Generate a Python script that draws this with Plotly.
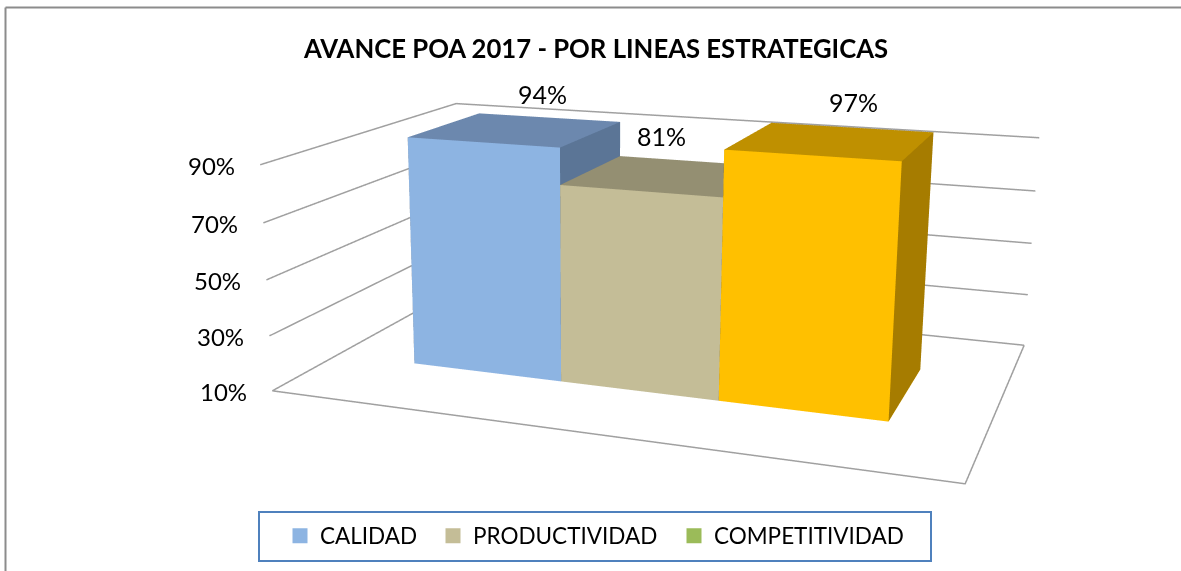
import plotly.graph_objects as go

# ---------- data ----------
series_names = ["CALIDAD", "PRODUCTIVIDAD", "COMPETITIVIDAD"]
series_values = [94, 81, 97]
value_labels = ["94%", "81%", "97%"]
tick_values = [10, 30, 50, 70, 90]
tick_labels = ["10%", "30%", "50%", "70%", "90%"]
title_text = "AVANCE POA 2017 - POR LINEAS ESTRATEGICAS"

# ---------- styles ----------
front_colors = ["#8DB4E2", "#C4BD97", "#FFC000"]
top_colors = ["#6C88AE", "#948F72", "#BF9000"]
side_colors = ["#5B7596", "#7F7A60", "#A67C00"]
legend_colors = ["#8DB4E2", "#C4BD97", "#9BBB59"]
legend_text_px = [319, 472, 713]
label_shift = [(26, 35), (-7, 39), (21, 39)]
GRID = "#A0A0A0"
FONT = "Lato"
W, H, TOP = 1181, 1321, -375     # tall canvas gives the flat perspective of the original
SIDE_GAP, Y_FRONT, Y_BACK = 0.133, 0.306, 0.703
Z_BASE = 10
PAD = 0.01                       # keeps lines on the box faces inside the scene's clip box


def xp(px):
    return px / W


def yp(py):
    return 1 - (py - TOP) / H


fig = go.Figure()
bar_w = (1 - 2 * SIDE_GAP) / len(series_values)

for i, v in enumerate(series_values):
    x0, x1 = SIDE_GAP + i * bar_w, SIDE_GAP + (i + 1) * bar_w
    fig.add_trace(go.Mesh3d(
        x=[x0, x1, x1, x0, x0, x1, x1, x0],
        y=[Y_FRONT, Y_FRONT, Y_BACK, Y_BACK, Y_FRONT, Y_FRONT, Y_BACK, Y_BACK],
        z=[Z_BASE] * 4 + [v] * 4,
        i=[0, 0, 4, 4, 0, 0, 1, 1, 2, 2, 3, 3],
        j=[1, 2, 5, 6, 1, 5, 2, 6, 3, 7, 0, 4],
        k=[2, 3, 6, 7, 5, 4, 6, 5, 7, 6, 4, 7],
        facecolor=[front_colors[i]] * 2 + [top_colors[i]] * 2 + [front_colors[i]] * 2
        + [side_colors[i]] * 2 + [side_colors[i]] * 2 + [side_colors[i]] * 2,
        flatshading=True,
        lighting=dict(ambient=1, diffuse=0, specular=0, fresnel=0),
        showlegend=False, hoverinfo="skip"))

# wall grid lines and floor
for t in tick_values:
    fig.add_trace(go.Scatter3d(x=[0, 0, 1], y=[0, 1, 1], z=[t, t, t], mode="lines",
                               line=dict(color=GRID, width=3), showlegend=False, hoverinfo="skip"))
fig.add_trace(go.Scatter3d(x=[0, 1, 1], y=[0, 0, 1], z=[Z_BASE] * 3, mode="lines",
                           line=dict(color=GRID, width=3), showlegend=False, hoverinfo="skip"))

# one legend per series so each entry sits where the original has it
legends = {}
for n, (name, col, tx) in enumerate(zip(series_names, legend_colors, legend_text_px)):
    key = "legend" if n == 0 else "legend%d" % (n + 1)
    fig.add_trace(go.Scatter3d(x=[None], y=[None], z=[None], mode="markers", name=name, legend=key,
                               marker=dict(symbol="square", size=15, color=col)))
    legends[key] = dict(orientation="h", x=xp(tx - 39), y=yp(536), xanchor="left", yanchor="middle",
                        bgcolor="rgba(0,0,0,0)", font=dict(family=FONT, size=22.5, color="black"))

annots = [dict(x=0, y=0, z=t, text=l, showarrow=False, xanchor="right", yanchor="middle",
               xshift=-23, yshift=-1, font=dict(family=FONT, size=24, color="black"))
          for t, l in zip(tick_values, tick_labels)]
for i, (v, l) in enumerate(zip(series_values, value_labels)):
    annots.append(dict(x=SIDE_GAP + (i + 0.5) * bar_w, y=(Y_FRONT + Y_BACK) / 2, z=v, text=l,
                       showarrow=False, xanchor="center", yanchor="middle",
                       xshift=label_shift[i][0], yshift=label_shift[i][1],
                       font=dict(family=FONT, size=25, color="black")))

k = 1 + 2 * PAD
z_mid, z_half = 55, 45
fig.update_layout(
    width=W, height=H, margin=dict(l=0, r=0, t=0, b=0), paper_bgcolor="white",
    title=dict(text="<b>" + title_text + "</b>", x=xp(596), y=yp(49), xanchor="center", yanchor="middle",
               xref="paper", yref="paper", font=dict(family=FONT, size=25.7, color="black")),
    scene=dict(
        domain=dict(x=[0, 1], y=[0, 1]),
        xaxis=dict(range=[-PAD, 1 + PAD], visible=False),
        yaxis=dict(range=[-PAD, 1 + PAD], visible=False),
        zaxis=dict(range=[z_mid - z_half * k, z_mid + z_half * k], visible=False),
        aspectmode="manual", aspectratio=dict(x=1.051 * k, y=0.664 * k, z=0.397 * k),
        camera=dict(eye=dict(x=0.773, y=-2.328, z=0.588),
                    center=dict(x=-0.057, y=-0.186, z=-0.022),
                    up=dict(x=0.0, y=0.009, z=1)),
        annotations=annots),
    shapes=[
        dict(type="rect", xref="paper", yref="paper", x0=xp(259), x1=xp(931), y0=yp(512), y1=yp(561),
             line=dict(color="#4F81BD", width=2)),
        dict(type="line", xref="paper", yref="paper", x0=xp(5.5), x1=xp(1181), y0=yp(7.5), y1=yp(7.5),
             line=dict(color="#8C8C8C", width=2)),
        dict(type="line", xref="paper", yref="paper", x0=xp(5.5), x1=xp(5.5), y0=yp(7.5), y1=yp(571),
             line=dict(color="#8C8C8C", width=2)),
    ],
    **legends)

post = ("document.documentElement.style.overflow='hidden';document.body.style.margin='0';"
        "document.body.style.overflow='hidden';var g=document.getElementById('{plot_id}');"
        "g.style.position='absolute';g.style.left='0px';g.style.top='%dpx';" % TOP)
fig.write_html("out.html", post_script=post)
